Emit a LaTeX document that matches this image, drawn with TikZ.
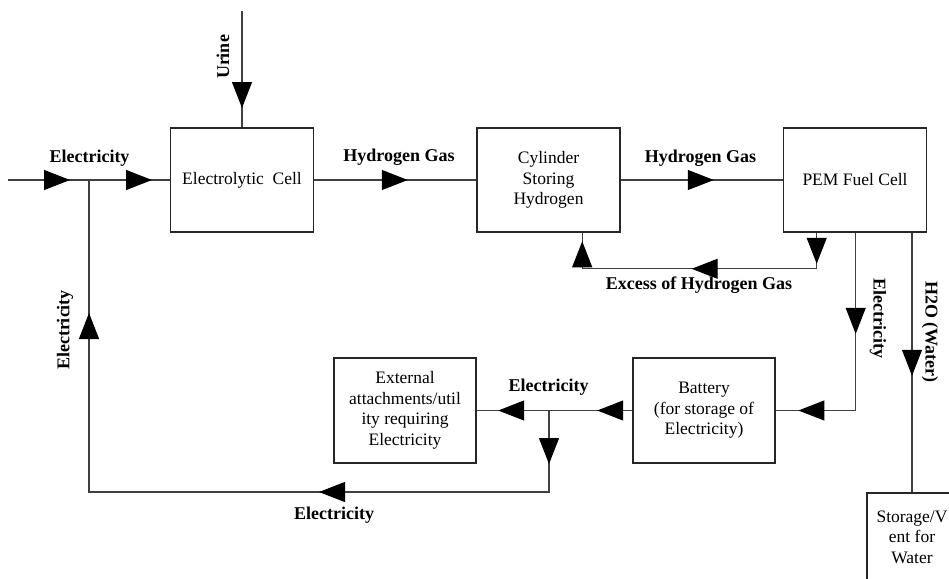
\documentclass[tikz,border=0pt]{standalone}
\usepackage{fontspec}
\setmainfont{Liberation Serif}
\usetikzlibrary{arrows.meta,decorations.markings,calc}
\begin{document}
\begin{tikzpicture}[x=1pt,y=-1pt,
 box/.style={draw=black!85, line width=1.6pt, minimum width=143pt, minimum height=104pt, inner sep=0pt, align=center, font=\fontsize{17.5}{20.5}\selectfont},
 lbl/.style={font=\fontsize{18}{21}\selectfont\bfseries, inner sep=0pt},
 flow/.style={draw=black!75, line width=1.1pt},
 tipat/.style={postaction={decorate,decoration={markings,mark=at position #1 with {\arrow[black]{Triangle[length=26pt,width=20pt]}}}}},
]
\useasboundingbox[fill=white] (0,0) rectangle (949,578);

% boxes
\node[box] (elec) at (242,180) {Electrolytic\ \ Cell};
\node[box] (cyl) at (548.5,180) {Cylinder\\Storing\\Hydrogen};
\node[box] (pem) at (855,180) {PEM Fuel Cell};
\node[box, minimum width=142pt, minimum height=105pt] (batt) at (704,410.5) {Battery\\(for storage of\\Electricity)};
\node[box, minimum width=142pt, minimum height=105pt] (ext) at (405,410.5) {External\\attachments/util\\ity requiring\\Electricity};
\node[box, minimum width=90pt, minimum height=88pt] (store) at (912,537) {Storage/V\\ent for\\Water};

% free ends and junctions
\coordinate (in) at (8,180);
\coordinate (j1) at (89,180);
\coordinate (utop) at (242,11);
\coordinate (j2) at (549,410.5);

% connectors
\draw[flow, tipat=62pt, tipat=144pt] (in) -- (elec.west);
\draw[flow, tipat=97pt] (utop) -- (elec.north);
\draw[flow, tipat=93.5pt] (elec.east) -- (cyl.west);
\draw[flow, tipat=93pt] (cyl.east) -- (pem.west);
\draw[flow, tipat=31pt, tipat=161pt, tipat=298pt] ([xshift=34pt]pem.south west) -- ++(0,36) -| ([xshift=106pt]cyl.south west);
\draw[flow, tipat=101pt, tipat=235pt] ([xshift=73pt]pem.south west) |- (batt.east);
\draw[flow, tipat=143pt] (pem.south -| store.north) -- (store.north);
\draw[flow, tipat=35pt, tipat=134pt] (batt.west) -- (ext.east);
\draw[flow, tipat=53.5pt, tipat=311.5pt, tipat=720.5pt] (j2) -- ++(0,81.5) -| (j1);

% labels
\node[lbl] (l1) at (89.5,158) {Electricity};
\node[lbl, rotate=90] (l2) at (223,57) {Urine};
\node[lbl] (l3) at (399,157) {Hydrogen Gas};
\node[lbl] (l4) at (700.5,158) {Hydrogen Gas};
\node[lbl] (l5) at (699,285) {Excess of Hydrogen Gas};
\node[lbl, rotate=-90] (l6) at (878,318) {Electricity};
\node[lbl, rotate=-90] (l7) at (930,332) {H2O (Water)};
\node[lbl] (l8) at (548.5,387) {Electricity};
\node[lbl, rotate=90] (l9) at (65,330) {Electricity};
\node[lbl] (l10) at (334,515) {Electricity};
\end{tikzpicture}
\end{document}
